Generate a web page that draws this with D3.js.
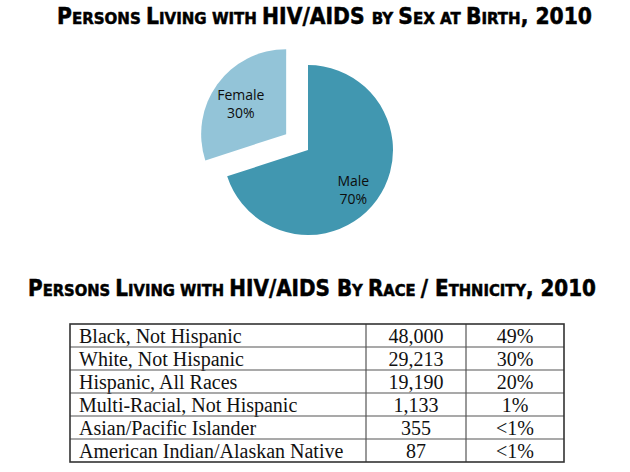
<!DOCTYPE html>
<html>
<head>
<meta charset="utf-8">
<script src="https://cdn.jsdelivr.net/npm/d3@7"></script>
<style>
  body { margin: 0; background: #fff; }
  svg { display: block; }
  .title { font-family: "Liberation Sans Narrow", "DejaVu Sans Condensed", "DejaVu Sans", sans-serif; font-weight: bold; fill: #000; stroke: #000; stroke-width: 0.5px; }
  .plabel { font-family: "Open Sans", "Noto Sans", sans-serif; font-size: 14px; fill: #0d0d0d; }
  .cell { font-family: "Liberation Serif", "DejaVu Serif", serif; font-size: 20px; fill: #111; }
</style>
</head>
<body>
<svg id="chart" width="630" height="472"></svg>
<script>
// pie data
var sexLabels = ["Male", "Female"];
var sexShares = [70, 30];

// table data
var raceGroups = ["Black, Not Hispanic", "White, Not Hispanic", "Hispanic, All Races",
                  "Multi-Racial, Not Hispanic", "Asian/Pacific Islander", "American Indian/Alaskan Native"];
var raceCounts = ["48,000", "29,213", "19,190", "1,133", "355", "87"];
var racePercents = ["49%", "30%", "20%", "1%", "<1%", "<1%"];

var titles = ["Persons Living with HIV/AIDS by Sex at Birth, 2010",
              "Persons Living with HIV/AIDS By Race / Ethnicity, 2010"];

var svg = d3.select("#chart");

// small caps by hand: lowercase letters become smaller capitals
function smallCapsTitle(txt, x, y, width, big) {
  var t = svg.append("text").attr("class", "title")
    .attr("x", x).attr("y", y)
    .attr("textLength", width).attr("lengthAdjust", "spacingAndGlyphs");
  // group into runs of same size
  var runs = [];
  for (var k = 0; k < txt.length; k++) {
    var ch = txt[k];
    var small = /[a-z]/.test(ch);
    if (ch == " " && runs.length) small = runs[runs.length - 1].small;
    if (runs.length && runs[runs.length - 1].small == small) runs[runs.length - 1].s += ch;
    else runs.push({small: small, s: ch});
  }
  t.selectAll("tspan").data(runs).enter().append("tspan")
    .style("font-size", function(d) { return (d.small ? big * 0.74 : big) + "px"; })
    .text(function(d) { return d.s.toUpperCase(); });
}
smallCapsTitle(titles[0], 57, 24, 535, 22.5);
smallCapsTitle(titles[1], 28, 295.5, 568, 22.5);

// ---- pie ----
var cx = 308, cy = 150, r = 85, explode = 27;
var color = d3.scaleOrdinal().domain(sexLabels).range(["#4197b0", "#93c4d8"]);
var pie = d3.pie().sort(null).value(function(d) { return d.v; });
var arcs = pie(sexLabels.map(function(l, i) { return {label: l, v: sexShares[i]}; }));
var arc = d3.arc().innerRadius(0).outerRadius(r);
var labelArc = d3.arc().innerRadius(56).outerRadius(56);

var g = svg.append("g").attr("transform", "translate(" + cx + "," + cy + ")");
var slice = g.selectAll("g.slice").data(arcs).enter().append("g")
  .attr("class", "slice")
  .attr("transform", function(d) {
    if (d.data.label != "Female") return null;
    var a = (d.startAngle + d.endAngle) / 2;
    return "translate(" + (Math.sin(a) * explode) + "," + (-Math.cos(a) * explode) + ")";
  });
slice.append("path").attr("d", arc).attr("fill", function(d) { return color(d.data.label); });
slice.each(function(d) {
  var c = labelArc.centroid(d);
  var dy = d.data.label == "Male" ? 4 : 0;
  var t = d3.select(this).append("text").attr("class", "plabel").attr("text-anchor", "middle");
  t.append("tspan").attr("x", c[0]).attr("y", c[1] - 1 + dy).text(d.data.label);
  t.append("tspan").attr("x", c[0]).attr("y", c[1] + 17 + dy).text(d.data.v + "%");
});

// ---- table ----
var tLeft = 70, tRight = 564, tTop = 324, tBottom = 462;
var colEdges = [tLeft, 366, 466, tRight];
var y = d3.scaleBand().domain(d3.range(raceGroups.length)).range([tTop, tBottom]);
var tbl = svg.append("g");

var rows = tbl.selectAll("g.row").data(raceGroups).enter().append("g")
  .attr("class", "row")
  .attr("transform", function(d, i) { return "translate(0," + y(i) + ")"; });
var mid = y.bandwidth() / 2 + 7;
rows.append("text").attr("class", "cell").attr("x", tLeft + 9).attr("y", mid).text(function(d) { return d; });
rows.append("text").attr("class", "cell").attr("text-anchor", "middle")
  .attr("x", (colEdges[1] + colEdges[2]) / 2).attr("y", mid)
  .text(function(d, i) { return raceCounts[i]; });
rows.append("text").attr("class", "cell").attr("text-anchor", "middle")
  .attr("x", (colEdges[2] + colEdges[3]) / 2).attr("y", mid)
  .text(function(d, i) { return racePercents[i]; });

// grid lines
tbl.selectAll("line.h").data(d3.range(1, raceGroups.length)).enter().append("line")
  .attr("x1", tLeft).attr("x2", tRight)
  .attr("y1", function(i) { return y(i); }).attr("y2", function(i) { return y(i); })
  .attr("stroke", "#555").attr("stroke-width", 1.2);
tbl.selectAll("line.v").data(colEdges.slice(1, 3)).enter().append("line")
  .attr("x1", function(d) { return d; }).attr("x2", function(d) { return d; })
  .attr("y1", tTop).attr("y2", tBottom)
  .attr("stroke", "#555").attr("stroke-width", 1.2);
tbl.append("rect").attr("x", tLeft).attr("y", tTop)
  .attr("width", tRight - tLeft).attr("height", tBottom - tTop)
  .attr("fill", "none").attr("stroke", "#333").attr("stroke-width", 1.6);
</script>
</body>
</html>
